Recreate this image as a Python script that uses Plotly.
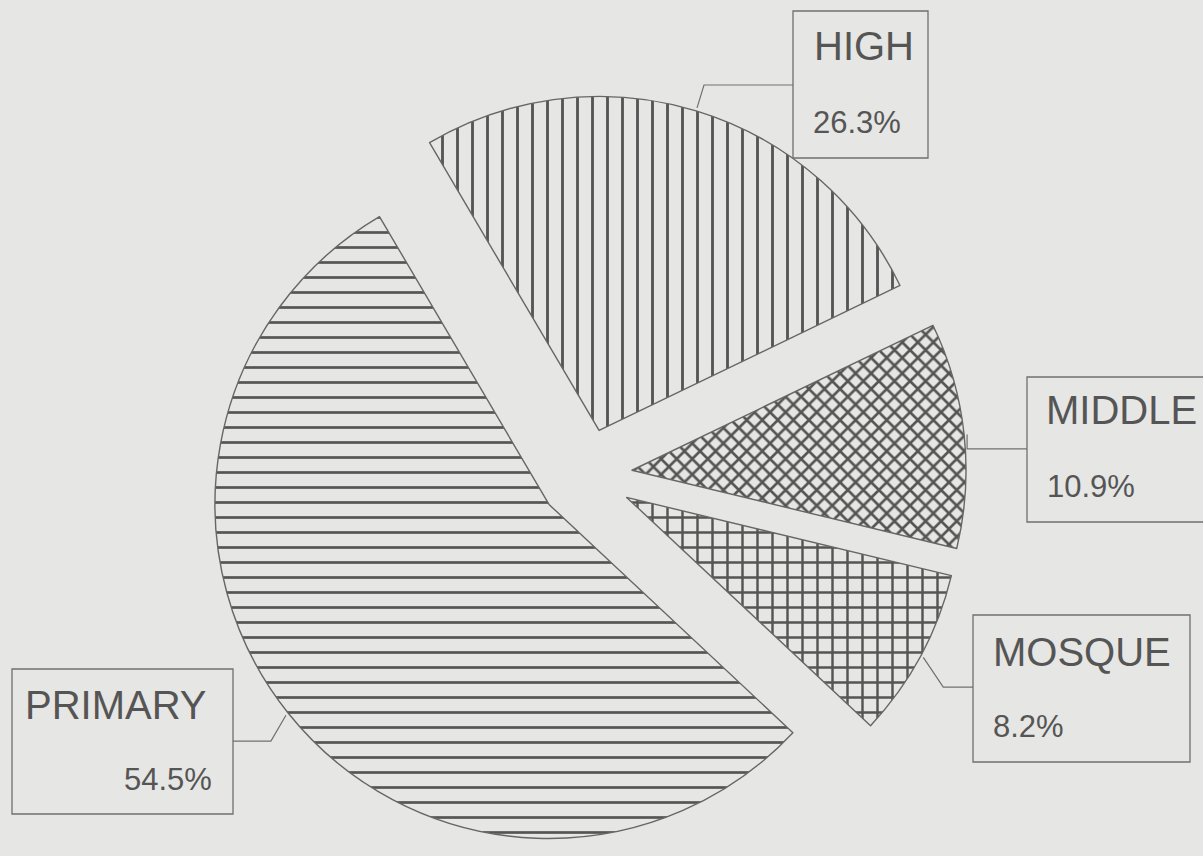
import math
import plotly.graph_objects as go

# ---- data ----
labels = ["HIGH", "MIDDLE", "MOSQUE", "PRIMARY"]
values = [26.3, 10.9, 8.2, 54.5]
patterns = ["|", "x", "+", "-"]
pattern_sizes = [15, 11, 15, 15]
pattern_solidity = [0.19, 0.42, 0.30, 0.18]

W, H = 1203, 856
PAPER = "#e6e6e4"
INK = "#555555"

pull = 0.14
rotation = -30.5
dom_x = [0.0867, 0.8867]
dom_y = [0.0, 0.8897]

fig = go.Figure(go.Pie(
    labels=labels,
    values=values,
    sort=False,
    direction="clockwise",
    rotation=rotation,
    pull=[pull] * len(values),
    textinfo="none",
    hoverinfo="label+percent",
    showlegend=False,
    domain=dict(x=dom_x, y=dom_y),
    marker=dict(
        colors=[PAPER] * len(values),
        line=dict(color="#666666", width=1.4),
        pattern=dict(
            shape=patterns,
            size=pattern_sizes,
            solidity=pattern_solidity,
            fgcolor=INK,
            bgcolor=PAPER,
            fgopacity=1,
            fillmode="overlay",
        ),
    ),
))

# pie geometry (same formula plotly uses) to anchor leader lines
rx = W * (dom_x[1] - dom_x[0]) / 2
ry = H * (dom_y[1] - dom_y[0]) / 2
r = min(rx, ry) / (1 + pull)
cx = W * (dom_x[0] + dom_x[1]) / 2
cy = H * (1 - (dom_y[0] + dom_y[1]) / 2)
total = sum(values)


def px(x, y):
    return x / W, 1 - y / H


# label box layout
boxes = {
    "HIGH":    dict(box=(793, 11, 928, 158), cy=85, side="left", edx=7,
                    name=(812, 46), pct=(811, 122), pa="left"),
    "MIDDLE":  dict(box=(1027, 377, 1215, 522), cy=449, side="left", edx=0,
                    name=(1044, 410), pct=(1045, 486), pa="left"),
    "MOSQUE":  dict(box=(973, 615, 1190, 762), cy=687, side="left", edx=20,
                    name=(991, 652), pct=(991, 726), pa="left"),
    "PRIMARY": dict(box=(12, 669, 233, 814), cy=741, side="right", edx=-15,
                    name=(23, 705), pct=(214, 779), pa="right"),
}

shapes = []
annotations = []
ang = rotation
for lab, v in zip(labels, values):
    span = 360 * v / total
    mid = math.radians(ang + span / 2)
    ang += span
    d = (math.sin(mid), -math.cos(mid))
    reach = r * (1 + pull) + 3
    tip = (cx + reach * d[0], cy + reach * d[1])
    b = boxes[lab]
    x0, y0, x1, y1 = b["box"]
    bx = x0 if b["side"] == "left" else x1
    elbow = (tip[0] + b["edx"], b["cy"])
    pts = [tip, elbow, (bx, b["cy"])]
    path = "M " + " L ".join("%.4f,%.4f" % px(*p) for p in pts)
    shapes.append(dict(type="path", xref="paper", yref="paper", path=path,
                       line=dict(color="#707070", width=1.2)))
    ax0, ay0 = px(x0, y0)
    ax1, ay1 = px(x1, y1)
    shapes.append(dict(type="rect", xref="paper", yref="paper",
                       x0=ax0, y0=ay1, x1=ax1, y1=ay0,
                       line=dict(color="#707070", width=1.3)))
    nx, ny = px(*b["name"])
    annotations.append(dict(xref="paper", yref="paper", x=nx, y=ny, text=lab,
                            showarrow=False, xanchor="left", yanchor="middle",
                            font=dict(family="Liberation Sans, Arial", size=40, color=INK)))
    tx, ty = px(*b["pct"])
    annotations.append(dict(xref="paper", yref="paper", x=tx, y=ty, text="%.1f%%" % v,
                            showarrow=False, xanchor=b["pa"], yanchor="middle",
                            font=dict(family="Liberation Sans, Arial", size=31, color=INK)))

fig.update_layout(
    width=W, height=H,
    margin=dict(l=0, r=0, t=0, b=0),
    paper_bgcolor=PAPER,
    plot_bgcolor=PAPER,
    shapes=shapes,
    annotations=annotations,
)

fig.write_html("out.html",
               config={"displayModeBar": False},
               post_script="document.body.style.margin='0';"
                           "document.body.style.overflow='hidden';")
